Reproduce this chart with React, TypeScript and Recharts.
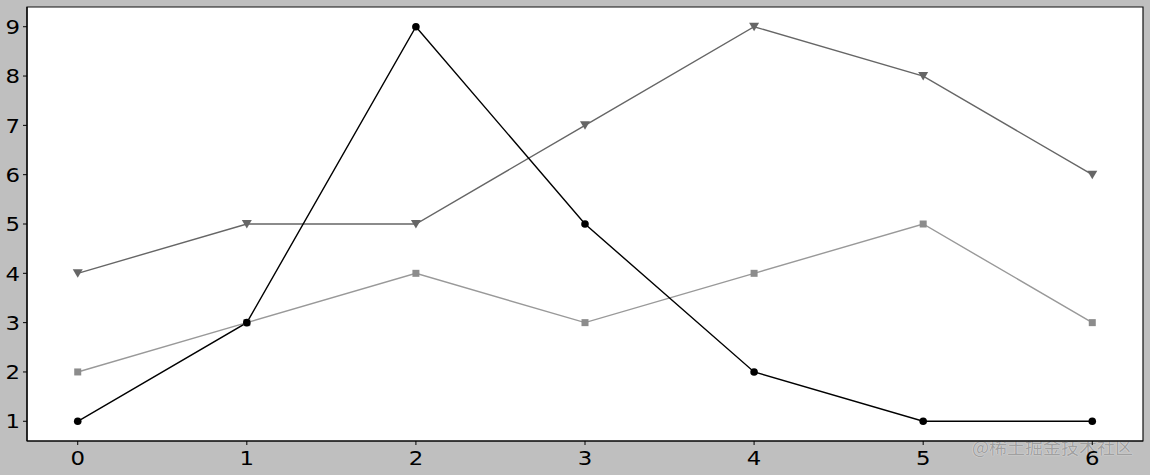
import React from 'react';
import { LineChart, Line, XAxis, YAxis, CartesianGrid, ReferenceArea } from 'recharts';

const categories = [0, 1, 2, 3, 4, 5, 6];
const seriesCircle = [1, 3, 9, 5, 2, 1, 1];
const seriesTriangle = [4, 5, 5, 7, 9, 8, 6];
const seriesSquare = [2, 3, 4, 3, 4, 5, 3];
const yTicks = [1, 2, 3, 4, 5, 6, 7, 8, 9];
const xTicks = [0, 1, 2, 3, 4, 5, 6];

const data = categories.map((c, i) => ({
  x: c,
  a: seriesCircle[i],
  b: seriesTriangle[i],
  c: seriesSquare[i],
}));

const TriangleDot = (props: any) => {
  const { cx, cy, index } = props;
  if (cx == null || cy == null) return null;
  const s = 5;
  return (
    <path
      key={`t${index}`}
      d={`M${cx - s},${cy - s * 0.8} L${cx + s},${cy - s * 0.8} L${cx},${cy + s * 0.9} Z`}
      fill="#666666"
    />
  );
};

const SquareDot = (props: any) => {
  const { cx, cy, index } = props;
  if (cx == null || cy == null) return null;
  const s = 3.5;
  return <rect key={`s${index}`} x={cx - s} y={cy - s} width={s * 2} height={s * 2} fill="#8c8c8c" />;
};

const CircleDot = (props: any) => {
  const { cx, cy, index } = props;
  if (cx == null || cy == null) return null;
  return <circle key={`c${index}`} cx={cx} cy={cy} r={3.8} fill="#000" />;
};

const FONT = 19.5;
const STRETCH = 1.17;

const XTick = (props: any) => {
  const { x, y, payload } = props;
  return (
    <g transform={`translate(${x},${y}) scale(${STRETCH},1)`}>
      <text x={0} y={0} dy={FONT * 0.76} textAnchor="middle" fill="#000" fontSize={FONT} fontFamily="DejaVu Sans">
        {payload.value}
      </text>
    </g>
  );
};

const YTick = (props: any) => {
  const { x, y, payload } = props;
  return (
    <g transform={`translate(${x},${y}) scale(${STRETCH},1)`}>
      <text x={0} y={0} dy={FONT * 0.37} textAnchor="end" fill="#000" fontSize={FONT} fontFamily="DejaVu Sans">
        {payload.value}
      </text>
    </g>
  );
};

export default function App() {
  return (
    <div style={{ position: 'absolute', left: 0, top: 0, width: 1150, height: 475, background: '#bfbfbf' }}>
      <div
        style={{
          position: 'absolute',
          left: 972,
          top: 433,
          fontSize: 18,
          fontFamily: '"Noto Sans CJK SC", sans-serif',
          color: '#a0a0a0',
          textShadow: '0 0 1px #e6e6e6, 0 0 1px #e6e6e6',
          whiteSpace: 'nowrap',
          pointerEvents: 'none',
        }}
      >
        @稀土掘金技术社区
      </div>
      <div style={{ position: 'absolute', left: 0, top: 0 }}>
        <LineChart width={1150} height={475} data={data} margin={{ top: 7, right: 7, bottom: 0, left: 0 }}>
          <CartesianGrid fill="#ffffff" horizontal={false} vertical={false} />
          <XAxis
            dataKey="x"
            type="number"
            domain={[-0.3, 6.3]}
            ticks={xTicks}
            height={34}
            tickSize={4}
            tickMargin={5}
            tick={<XTick />}
            axisLine={{ stroke: '#000', strokeWidth: 1.2 }}
            tickLine={{ stroke: '#000' }}
            allowDataOverflow
          />
          <YAxis
            type="number"
            domain={[0.6, 9.4]}
            ticks={yTicks}
            width={27}
            tickSize={4}
            tickMargin={3}
            tick={<YTick />}
            axisLine={{ stroke: '#000', strokeWidth: 1.2 }}
            tickLine={{ stroke: '#000' }}
            allowDataOverflow
          />
          <ReferenceArea
            x1={-0.3}
            x2={6.3}
            y1={0.6}
            y2={9.4}
            fill="none"
            fillOpacity={0}
            stroke="#111"
            strokeWidth={1.2}
            ifOverflow="visible"
          />
          <Line
            dataKey="c"
            stroke="#999999"
            strokeWidth={1.4}
            dot={SquareDot}
            activeDot={false}
            isAnimationActive={false}
          />
          <Line
            dataKey="b"
            stroke="#666666"
            strokeWidth={1.4}
            dot={TriangleDot}
            activeDot={false}
            isAnimationActive={false}
          />
          <Line
            dataKey="a"
            stroke="#000000"
            strokeWidth={1.4}
            dot={CircleDot}
            activeDot={false}
            isAnimationActive={false}
          />
        </LineChart>
      </div>
    </div>
  );
}
